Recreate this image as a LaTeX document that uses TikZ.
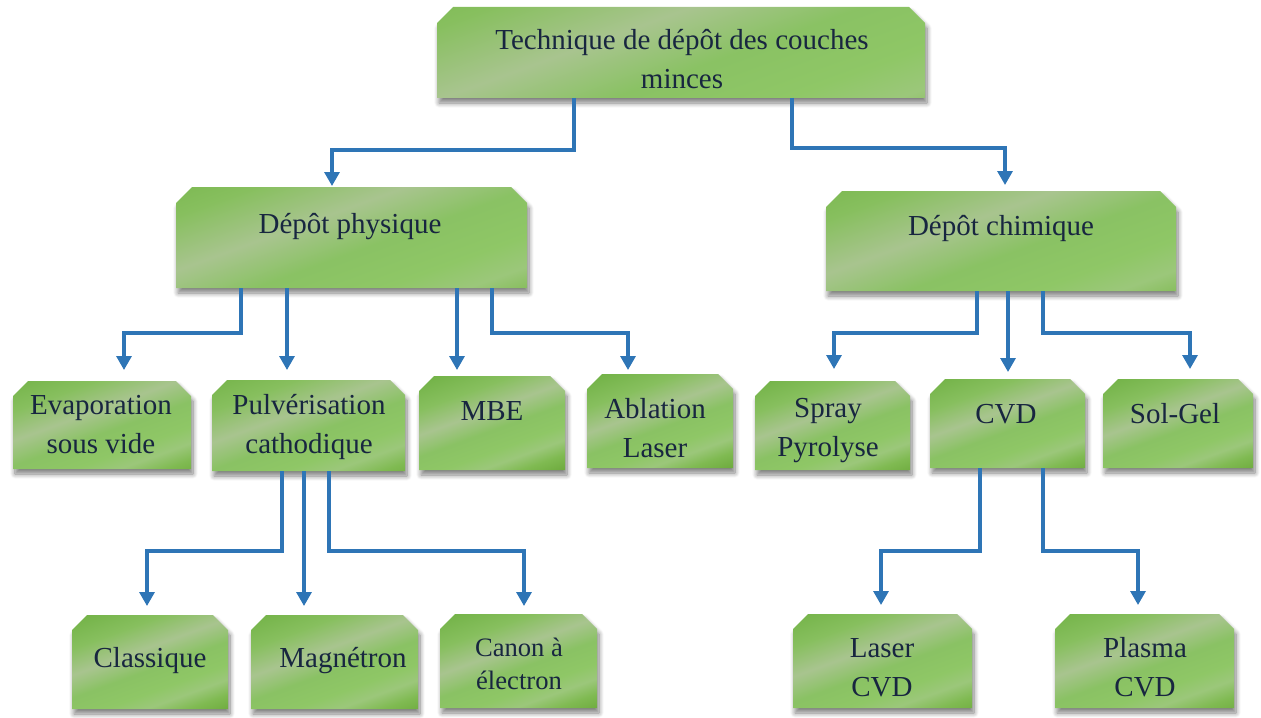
\documentclass[tikz,border=0pt]{standalone}
\usepackage{fontspec}
\setmainfont{Liberation Serif}
\usetikzlibrary{arrows.meta,shadows.blur,fit}

\definecolor{linkblue}{RGB}{46,117,182}
\definecolor{txtnavy}{RGB}{24,38,64}

% streaky green fill of the boxes (visible part: 25bp .. 75bp)
\pgfdeclarehorizontalshading{leafgreen}{100bp}{%
 rgb(0bp)=(0.58,0.79,0.46);
 rgb(25bp)=(0.58,0.79,0.46);
 rgb(31bp)=(0.45,0.70,0.28);
 rgb(39bp)=(0.53,0.75,0.37);
 rgb(46bp)=(0.66,0.77,0.56);
 rgb(52bp)=(0.54,0.76,0.39);
 rgb(58bp)=(0.56,0.78,0.40);
 rgb(62bp)=(0.61,0.78,0.48);
 rgb(66bp)=(0.50,0.73,0.32);
 rgb(71bp)=(0.42,0.66,0.23);
 rgb(75bp)=(0.34,0.58,0.15);
 rgb(100bp)=(0.34,0.58,0.15)}

\newcommand\treefont{\fontsize{14.5pt}{19.5pt}\selectfont}
\newcommand\treefontsm{\fontsize{13.3pt}{16.5pt}\selectfont}

% #1 name, #2-#5 corners (x1,y1,x2,y2), #6 size of the cut top corners
\newcommand\greenbox[6]{%
  \pgfmathsetmacro\bandlen{(#4-#2)*cos(20)+(#5-#3)*sin(20)}%
  \path[boxbody, path picture={
      \shade[shading=leafgreen, shading angle=-70]
        (path picture bounding box.center) ++(-0.5*\bandlen,-0.5*\bandlen)
        rectangle ++(\bandlen,\bandlen);}]
    (#2,#3+#6) -- (#2+#6,#3) -- (#4-#6,#3) -- (#4,#3+#6) -- (#4,#5) -- (#2,#5) -- cycle;
  \node[boxframe, fit={(#2,#3) (#4,#5)}] (#1) {};
}

\tikzset{
  boxbody/.style={
    blur shadow={shadow xshift=1pt, shadow yshift=-2.5pt, shadow opacity=50,
                 shadow blur radius=2.4pt, shadow blur steps=8}},
  boxframe/.style={inner sep=0pt, outer sep=0pt, draw=none},
  boxtext/.style={inner sep=0pt, align=center, text=txtnavy, font=\treefont},
  boxtextsm/.style={boxtext, font=\treefontsm},
  link/.style={draw=linkblue, line width=1.6pt,
    -{Triangle[width=7.5pt,length=7pt]}},
}

\begin{document}
\begin{tikzpicture}[x=0.5pt, y=-0.5pt]
\useasboundingbox (0,0) rectangle (1261,717);

% boxes
\greenbox{top}{437}{7}{925}{98}{16}
\greenbox{phys}{176}{187}{527}{288}{16}
\greenbox{chim}{826}{191}{1176}{291}{16}
\greenbox{evap}{13}{381}{191}{469}{15}
\greenbox{pulv}{212}{380}{405}{471}{15}
\greenbox{mbe}{419}{376}{565}{470}{15}
\greenbox{abl}{587}{374}{733}{468}{15}
\greenbox{spray}{755}{381}{910}{470}{15}
\greenbox{cvd}{930}{379}{1085}{468}{15}
\greenbox{sol}{1103}{379}{1253}{468}{15}
\greenbox{clas}{72}{615}{228}{709}{15}
\greenbox{magn}{251}{615}{418}{709}{15}
\greenbox{canon}{440}{614}{597}{708}{15}
\greenbox{laser}{793}{614}{972}{708}{15}
\greenbox{plasma}{1055}{614}{1234}{708}{15}

% labels
\node[boxtext] (topT) at (682,61) {\strut Technique de dépôt des couches\\\strut minces};
\node[boxtext] (physT) at (350,225.2) {\strut Dépôt physique};
\node[boxtext] (chimT) at (1001,227.2) {\strut Dépôt chimique};
\node[boxtext] (evapT) at (101,426.2) {\strut Evaporation\\\strut sous vide};
\node[boxtext] (pulvT) at (309,426.2) {\strut Pulvérisation\\\strut cathodique};
\node[boxtext] (mbeT) at (492,412.2) {\strut MBE};
\node[boxtext] (ablT) at (655,429.7) {\strut Ablation\\\strut Laser};
\node[boxtext] (sprayT) at (828,429.2) {\strut Spray\\\strut Pyrolyse};
\node[boxtext] (cvdT) at (1006,415.2) {\strut CVD};
\node[boxtext] (solT) at (1175,415.2) {\strut Sol-Gel};
\node[boxtext] (clasT) at (150,659.2) {\strut Classique};
\node[boxtext] (magnT) at (343,659.2) {\strut Magnétron};
\node[boxtextsm] (canonT) at (519,665.9) {\strut Canon à\\\strut électron};
\node[boxtext] (laserT) at (882,668.7) {\strut Laser\\\strut CVD};
\node[boxtext] (plasmaT) at (1145,668.7) {\strut Plasma\\\strut CVD};

% connectors
\draw[link, shorten >=0.5pt] (top.south -| 574,0) -- (574,150) -| (phys.north -| 332,0);
\draw[link, shorten >=3pt]   (top.south -| 792,0) -- (792,148) -| (chim.north -| 1005,0);

\draw[link, shorten >=5.5pt] (phys.south -| 241,0) -- (241,333) -| (evap.north -| 124,0);
\draw[link, shorten >=5pt]   (phys.south -| 287,0) -- (pulv.north -| 287,0);
\draw[link, shorten >=3pt]   (phys.south -| 457,0) -- (mbe.north -| 457,0);
\draw[link, shorten >=2pt]   (phys.south -| 492,0) -- (492,333) -| (abl.north -| 628,0);

\draw[link, shorten >=6pt]   (chim.south -| 977,0) -- (977,333) -| (spray.north -| 834,0);
\draw[link, shorten >=3.5pt] (chim.south -| 1008,0) -- (cvd.north -| 1008,0);
\draw[link, shorten >=5pt]   (chim.south -| 1043,0) -- (1043,333) -| (sol.north -| 1190,0);

\draw[link, shorten >=4.5pt] (pulv.south -| 282,0) -- (282,551) -| (clas.north -| 147,0);
\draw[link, shorten >=4.5pt] (pulv.south -| 304,0) -- (magn.north -| 304,0);
\draw[link, shorten >=4pt]   (pulv.south -| 329,0) -- (329,551) -| (canon.north -| 524,0);

\draw[link, shorten >=4.5pt] (cvd.south -| 980,0) -- (980,551) -| (laser.north -| 881,0);
\draw[link, shorten >=4.5pt] (cvd.south -| 1043,0) -- (1043,551) -| (plasma.north -| 1138,0);
\end{tikzpicture}
\end{document}
